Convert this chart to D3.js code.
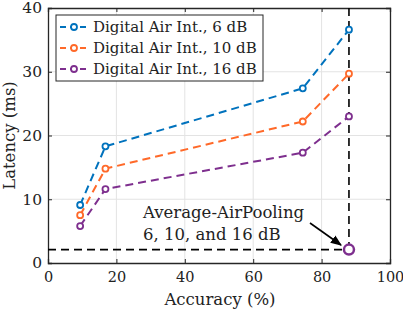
<!DOCTYPE html>
<html>
<head>
<meta charset="utf-8">
<script src="https://cdn.jsdelivr.net/npm/d3@7"></script>
<style>
body { margin: 0; background: #fff; }
text { font-family: "DejaVu Serif", "Liberation Serif", serif; fill: #222; }
</style>
</head>
<body>
<svg id="chart" width="403" height="316"></svg>
<script>
// values
var seriesNames = ["Digital Air Int., 6 dB", "Digital Air Int., 10 dB", "Digital Air Int., 16 dB"];
var seriesColors = ["#0072BD", "#FF6929", "#7E2F8E"];
var accuracy6 = [9.4, 16.8, 74.5, 88.0];
var latency6 = [9.1, 18.3, 27.4, 36.6];
var accuracy10 = [9.4, 16.8, 74.5, 88.0];
var latency10 = [7.5, 14.8, 22.2, 29.7];
var accuracy16 = [9.4, 16.8, 74.5, 88.0];
var latency16 = [5.8, 11.6, 17.3, 23.0];
var poolAccuracy = 88.0;
var poolLatency = 2.1;
var xTicks = [0, 20, 40, 60, 80, 100];
var yTicks = [0, 10, 20, 30, 40];

var svg = d3.select("#chart");
var plotL = 48, plotR = 390, plotT = 8, plotB = 263;

var x = d3.scaleLinear().domain([0, 100]).range([plotL, plotR]);
var y = d3.scaleLinear().domain([0, 40]).range([plotB, plotT]);

// grid
svg.append("g").selectAll("line").data(xTicks.slice(1, -1)).enter().append("line")
	.attr("x1", d => x(d)).attr("x2", d => x(d)).attr("y1", plotT).attr("y2", plotB)
	.attr("stroke", "#e3e3e3").attr("stroke-width", 1);
svg.append("g").selectAll("line").data(yTicks.slice(1, -1)).enter().append("line")
	.attr("y1", d => y(d)).attr("y2", d => y(d)).attr("x1", plotL).attr("x2", plotR)
	.attr("stroke", "#e3e3e3").attr("stroke-width", 1);

// axes (ticks inward)
var xAxis = svg.append("g").attr("transform", "translate(0," + plotB + ")")
	.call(d3.axisBottom(x).tickValues(xTicks).tickSize(-4).tickPadding(9));
var yAxis = svg.append("g").attr("transform", "translate(" + plotL + ",0)")
	.call(d3.axisLeft(y).tickValues(yTicks).tickSize(-4).tickPadding(6));
svg.append("g").attr("transform", "translate(0," + plotT + ")")
	.call(d3.axisTop(x).tickValues(xTicks).tickSize(-4).tickFormat(""));
svg.append("g").attr("transform", "translate(" + plotR + ",0)")
	.call(d3.axisRight(y).tickValues(yTicks).tickSize(-4).tickFormat(""));
svg.selectAll(".domain").attr("stroke", "#262626").attr("stroke-width", 1.3);
svg.selectAll(".tick line").attr("stroke", "#262626");
svg.selectAll(".tick text").style("font-family", "DejaVu Serif").attr("fill", "#262626");
yAxis.selectAll(".tick text").style("font-size", "15.5px");
xAxis.selectAll(".tick text").style("font-size", "14.5px");

// reference dashed lines
svg.append("line").attr("x1", x(0)).attr("x2", x(poolAccuracy))
	.attr("y1", y(poolLatency)).attr("y2", y(poolLatency))
	.attr("stroke", "#000").attr("stroke-width", 1.6).attr("stroke-dasharray", "8,5");
svg.append("line").attr("x1", x(poolAccuracy)).attr("x2", x(poolAccuracy))
	.attr("y1", y(40)).attr("y2", y(poolLatency))
	.attr("stroke", "#000").attr("stroke-width", 1.6).attr("stroke-dasharray", "8,5");

// series
var allSeries = [
	{xs: accuracy6, ys: latency6},
	{xs: accuracy10, ys: latency10},
	{xs: accuracy16, ys: latency16}
];
var line = d3.line().x(d => x(d[0])).y(d => y(d[1]));
allSeries.forEach(function(s, i) {
	var pts = d3.zip(s.xs, s.ys);
	svg.append("path").datum(pts).attr("d", line)
		.attr("fill", "none").attr("stroke", seriesColors[i])
		.attr("stroke-width", 2).attr("stroke-dasharray", "8,5");
	svg.append("g").selectAll("circle").data(pts).enter().append("circle")
		.attr("cx", d => x(d[0])).attr("cy", d => y(d[1])).attr("r", 3)
		.attr("fill", "#fff").attr("stroke", seriesColors[i]).attr("stroke-width", 1.8);
});

// AirPooling point
svg.append("circle").attr("cx", x(poolAccuracy)).attr("cy", y(poolLatency)).attr("r", 5)
	.attr("fill", "#fff").attr("stroke", "#7E2F8E").attr("stroke-width", 2.5);

// annotation
svg.append("defs").append("marker").attr("id", "arrow")
	.attr("viewBox", "0 0 10 10").attr("refX", 9).attr("refY", 5)
	.attr("markerWidth", 7).attr("markerHeight", 7).attr("orient", "auto")
	.append("path").attr("d", "M0,1 L10,5 L0,9 z").attr("fill", "#000");
svg.append("line").attr("x1", 310).attr("y1", 223).attr("x2", 341).attr("y2", 245)
	.attr("stroke", "#000").attr("stroke-width", 1.6).attr("marker-end", "url(#arrow)");
svg.append("text").attr("x", 143).attr("y", 218).style("font-size", "16.5px").text("Average-AirPooling");
svg.append("text").attr("x", 143).attr("y", 240).style("font-size", "16.5px").text("6, 10, and 16 dB");

// legend
var leg = svg.append("g").attr("transform", "translate(56,15)");
leg.append("rect").attr("width", 207).attr("height", 66)
	.attr("fill", "#fff").attr("stroke", "#262626").attr("stroke-width", 1);
seriesNames.forEach(function(name, i) {
	var ly = 12 + i * 21;
	leg.append("line").attr("x1", 4).attr("x2", 30).attr("y1", ly).attr("y2", ly)
		.attr("stroke", seriesColors[i]).attr("stroke-width", 2).attr("stroke-dasharray", "6,4");
	leg.append("circle").attr("cx", 18).attr("cy", ly).attr("r", 3)
		.attr("fill", "#fff").attr("stroke", seriesColors[i]).attr("stroke-width", 1.8);
	leg.append("text").attr("x", 37).attr("y", ly + 5).style("font-size", "15px").text(name);
});

// axis titles
svg.append("text").attr("x", 220).attr("y", 305).attr("text-anchor", "middle")
	.style("font-size", "16.5px").text("Accuracy (%)");
svg.append("text").attr("transform", "translate(15," + ((plotT + plotB) / 2) + ") rotate(-90)")
	.attr("text-anchor", "middle").style("font-size", "16.5px").text("Latency (ms)");
</script>
</body>
</html>
